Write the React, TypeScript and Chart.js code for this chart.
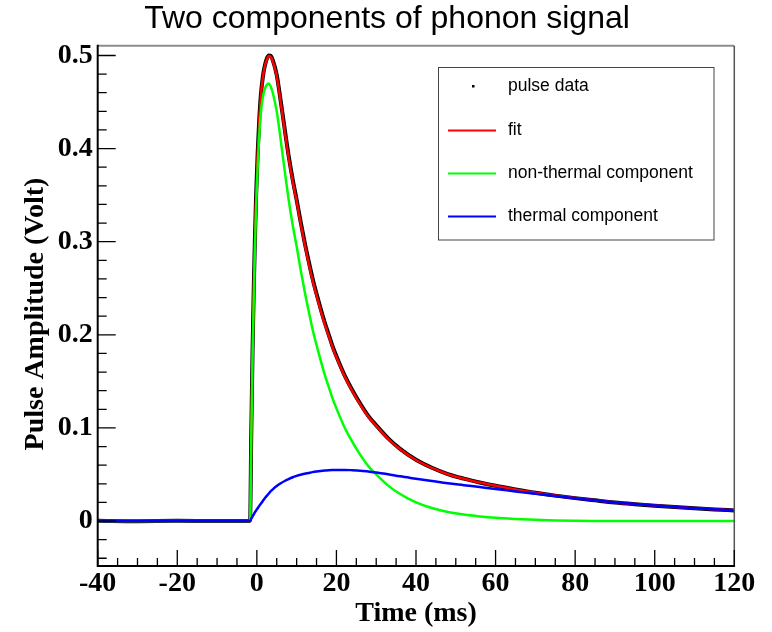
import React, { useEffect, useRef } from "react";
import { Chart, registerables } from "chart.js";

Chart.register(...registerables);

const TITLE = "Two components of phonon signal";
const X_TITLE = "Time (ms)";
const Y_TITLE = "Pulse Amplitude (Volt)";
const LEGEND_LABELS = ["pulse data", "fit", "non-thermal component", "thermal component"];

const TIME_MS = [
  -40, -30, -20, -10, -2,
  -1.7, -1.4, -1.1, -0.8, -0.5, -0.2,
  0.2, 0.6,
  1, 1.5, 2, 2.5, 3, 3.5, 4,
  5, 6, 7, 8, 9, 10, 11, 12, 13, 14, 15, 16, 17, 18, 19, 20,
  22, 24, 26, 28, 30,
  33, 36,
  40, 44, 48, 52, 56, 60,
  65, 70, 75, 80, 85, 90, 95, 100, 105, 110, 115, 120,
];

const PULSE_DATA = [
  0.0003, -0.0002, 0.0002, -0.0001, 0.0001,
  0.001, 0.095, 0.178, 0.245, 0.301, 0.348,
  0.395, 0.431,
  0.457, 0.477, 0.489, 0.4965, 0.5, 0.4995, 0.495,
  0.479, 0.451, 0.421, 0.392, 0.367, 0.345, 0.3215, 0.2995, 0.2795, 0.2605, 0.244, 0.2285, 0.214, 0.201, 0.188, 0.177,
  0.157, 0.1405, 0.126, 0.113, 0.1028,
  0.0888, 0.0775,
  0.0658, 0.0572, 0.0504, 0.0455, 0.0414, 0.0378,
  0.0339, 0.0303, 0.0273, 0.0246, 0.0222, 0.0199, 0.0181, 0.0165, 0.015, 0.0137, 0.0125, 0.0114,
];

const FIT = [
  0, 0, 0, 0, 0,
  0, 0.0925, 0.1748, 0.242, 0.2992, 0.3462,
  0.3938, 0.4302,
  0.4565, 0.4765, 0.4885, 0.4955, 0.4995, 0.4985, 0.494,
  0.4775, 0.4495, 0.419, 0.39, 0.365, 0.3435, 0.3197, 0.2977, 0.2776, 0.2585, 0.2422, 0.2268, 0.2123, 0.1996, 0.1868, 0.1759,
  0.1559, 0.1396, 0.1251, 0.1122, 0.1022,
  0.0882, 0.077,
  0.0655, 0.057, 0.0503, 0.0454, 0.0414, 0.0379,
  0.034, 0.0305, 0.0275, 0.0248, 0.0223, 0.02, 0.0182, 0.0166, 0.0151, 0.0138, 0.0126, 0.0115,
];

const NON_THERMAL = [
  0, 0, 0, 0, 0,
  0, 0.09, 0.17, 0.235, 0.29, 0.335,
  0.38, 0.414,
  0.438, 0.455, 0.464, 0.4685, 0.47, 0.4665, 0.46,
  0.44, 0.409, 0.376, 0.345, 0.318, 0.295, 0.27, 0.247, 0.226, 0.206, 0.189, 0.173, 0.158, 0.145, 0.132, 0.121,
  0.101, 0.085, 0.071, 0.059, 0.05,
  0.038, 0.029,
  0.02, 0.014, 0.0098, 0.0069, 0.0049, 0.0034,
  0.0022, 0.0013, 0.0007, 0.0003, 0.0001, 0, 0, 0, 0, 0, 0, 0,
];

const THERMAL = [
  0, 0, 0, 0, 0,
  0, 0.0025, 0.0048, 0.007, 0.0092, 0.0112,
  0.0138, 0.0162,
  0.0185, 0.0215, 0.0245, 0.027, 0.0295, 0.032, 0.034,
  0.0375, 0.0405, 0.043, 0.045, 0.047, 0.0485, 0.0497, 0.0507, 0.0516, 0.0525, 0.0532, 0.0538, 0.0543, 0.0546, 0.0548, 0.0549,
  0.0549, 0.0546, 0.0541, 0.0532, 0.0522,
  0.0502, 0.048,
  0.0455, 0.043, 0.0405, 0.0385, 0.0365, 0.0345,
  0.0318, 0.0292, 0.0268, 0.0245, 0.0222, 0.02, 0.0182, 0.0166, 0.0151, 0.0138, 0.0126, 0.0115,
];

const X_MIN = -40;
const X_MAX = 120;
const Y_MIN = -0.0483;
const Y_MAX = 0.5105;
const X_TICKS = [-40, -20, 0, 20, 40, 60, 80, 100, 120];
const X_TICK_LABELS = ["-40", "-20", "0", "20", "40", "60", "80", "100", "120"];
const Y_TICKS = [0, 0.1, 0.2, 0.3, 0.4, 0.5];
const Y_TICK_LABELS = ["0", "0.1", "0.2", "0.3", "0.4", "0.5"];
const X_MINOR_STEP = 5;
const Y_MINOR_STEP = 0.02;

const SERIF = '"Liberation Serif", "Times New Roman", serif';
const SANS = '"Liberation Sans", Arial, sans-serif';

const toPoints = (ys: number[]) => TIME_MS.map((t, i) => ({ x: t, y: ys[i] }));

const rootStylePlugin = {
  id: "rootStyle",
  afterDraw(chart: any) {
    const ctx = chart.ctx as CanvasRenderingContext2D;
    const { left, right, top, bottom } = chart.chartArea;
    const xs = chart.scales.x;
    const ys = chart.scales.y;
    ctx.save();

    // frame
    ctx.lineCap = "butt";
    ctx.strokeStyle = "#8c8c8c";
    ctx.lineWidth = 2;
    ctx.beginPath();
    ctx.moveTo(left, top);
    ctx.lineTo(right, top);
    ctx.stroke();
    ctx.strokeStyle = "#555";
    ctx.lineWidth = 1.5;
    ctx.beginPath();
    ctx.moveTo(right, top);
    ctx.lineTo(right, bottom);
    ctx.stroke();
    ctx.strokeStyle = "#000";
    ctx.lineWidth = 2;
    ctx.beginPath();
    ctx.moveTo(left, top - 1);
    ctx.lineTo(left, bottom);
    ctx.lineTo(right + 0.75, bottom);
    ctx.stroke();

    // ticks
    ctx.lineWidth = 1.3;
    ctx.beginPath();
    for (let k = 0; ; k++) {
      const v = X_MIN + k * X_MINOR_STEP;
      if (v > X_MAX + 1e-9) break;
      const px = xs.getPixelForValue(v);
      const major = X_TICKS.some((t) => Math.abs(t - v) < 1e-9);
      ctx.moveTo(px, bottom);
      ctx.lineTo(px, bottom - (major ? 16 : 8));
    }
    const yStart = Math.ceil(Y_MIN / Y_MINOR_STEP) * Y_MINOR_STEP;
    for (let k = 0; ; k++) {
      const v = yStart + k * Y_MINOR_STEP;
      if (v > Y_MAX) break;
      const py = ys.getPixelForValue(v);
      const major = Y_TICKS.some((t) => Math.abs(t - v) < 1e-6);
      ctx.moveTo(left, py);
      ctx.lineTo(left + (major ? 18 : 9), py);
    }
    ctx.stroke();

    // title
    ctx.fillStyle = "#000";
    ctx.font = `32px ${SANS}`;
    ctx.textAlign = "center";
    ctx.textBaseline = "middle";
    ctx.fillText(TITLE, 387, 19);

    // y axis title
    ctx.save();
    ctx.translate(36, 314);
    ctx.rotate(-Math.PI / 2);
    ctx.font = `bold 28px ${SERIF}`;
    ctx.textAlign = "center";
    ctx.textBaseline = "middle";
    ctx.fillText(Y_TITLE, 0, 0);
    ctx.restore();

    // legend
    const box = { l: 438.5, t: 67.5, r: 714, b: 240 };
    ctx.fillStyle = "#fff";
    ctx.fillRect(box.l, box.t, box.r - box.l, box.b - box.t);
    ctx.strokeStyle = "#444";
    ctx.lineWidth = 1;
    ctx.strokeRect(box.l, box.t, box.r - box.l, box.b - box.t);
    const rowY = [86, 130, 173, 216];
    const colors = ["#000000", "#ff0000", "#00ff00", "#0000ff"];
    ctx.font = `17.5px ${SANS}`;
    ctx.textAlign = "left";
    ctx.textBaseline = "middle";
    LEGEND_LABELS.forEach((lab, i) => {
      const y = rowY[i];
      if (i === 0) {
        ctx.fillStyle = "#000";
        ctx.fillRect(472, y - 1, 2.5, 2.5);
      } else {
        ctx.strokeStyle = colors[i];
        ctx.lineWidth = 2;
        ctx.beginPath();
        ctx.moveTo(448, y + 0.5);
        ctx.lineTo(496, y + 0.5);
        ctx.stroke();
      }
      ctx.fillStyle = "#000";
      ctx.fillText(lab, 508, y);
    });
    ctx.restore();
  },
};

export default function App() {
  const ref = useRef<HTMLCanvasElement>(null);

  useEffect(() => {
    if (!ref.current) return;
    const tickFont = { family: SERIF, weight: "bold" as const, size: 28 };
    const chart = new Chart(ref.current, {
      type: "line",
      data: {
        datasets: [
          {
            label: LEGEND_LABELS[3],
            data: toPoints(THERMAL),
            borderColor: "#0000ff",
            borderWidth: 2.5,
            pointRadius: 0,
            cubicInterpolationMode: "monotone",
            fill: false,
            order: 0,
          },
          {
            label: LEGEND_LABELS[2],
            data: toPoints(NON_THERMAL),
            borderColor: "#00ff00",
            borderWidth: 2.5,
            pointRadius: 0,
            cubicInterpolationMode: "monotone",
            fill: false,
            order: 1,
          },
          {
            label: LEGEND_LABELS[1],
            data: toPoints(FIT),
            borderColor: "#ff0000",
            borderWidth: 2.5,
            pointRadius: 0,
            cubicInterpolationMode: "monotone",
            fill: false,
            order: 2,
          },
          {
            label: LEGEND_LABELS[0],
            data: toPoints(PULSE_DATA),
            borderColor: "#000000",
            borderWidth: 4,
            pointRadius: 0,
            cubicInterpolationMode: "monotone",
            fill: false,
            order: 3,
          },
        ],
      },
      options: {
        responsive: false,
        animation: false,
        devicePixelRatio: 1,
        events: [],
        layout: { padding: { top: 45.7, right: 37.7, bottom: 0, left: 0 } },
        plugins: {
          legend: { display: false },
          title: { display: false },
          tooltip: { enabled: false },
        },
        scales: {
          x: {
            type: "linear",
            min: X_MIN,
            max: X_MAX,
            grid: { display: false, drawTicks: false },
            border: { display: false },
            afterBuildTicks: (s: any) => {
              s.ticks = X_TICKS.map((v) => ({ value: v }));
            },
            afterFit: (s: any) => {
              s.height = 66;
            },
            ticks: {
              autoSkip: false,
              maxRotation: 0,
              padding: 1,
              color: "#000",
              font: tickFont,
              callback: (v: any) => X_TICK_LABELS[X_TICKS.indexOf(Number(v))],
            },
            title: {
              display: true,
              text: X_TITLE,
              color: "#000",
              font: tickFont,
              padding: { top: 0, bottom: 1.5 },
            },
          },
          y: {
            type: "linear",
            min: Y_MIN,
            max: Y_MAX,
            grid: { display: false, drawTicks: false },
            border: { display: false },
            afterBuildTicks: (s: any) => {
              s.ticks = Y_TICKS.map((v) => ({ value: v }));
            },
            afterFit: (s: any) => {
              s.width = 97.7;
            },
            ticks: {
              autoSkip: false,
              padding: 5,
              color: "#000",
              font: tickFont,
              callback: (v: any) => {
                const i = Y_TICKS.findIndex((t) => Math.abs(t - Number(v)) < 1e-9);
                return i >= 0 ? Y_TICK_LABELS[i] : "";
              },
            },
            title: { display: false },
          },
        },
      },
      plugins: [rootStylePlugin],
    } as any);
    return () => chart.destroy();
  }, []);

  return (
    <div style={{ position: "fixed", left: 0, top: 0, width: 772, height: 632, background: "#fff" }}>
      <canvas ref={ref} width={772} height={632} style={{ display: "block", width: 772, height: 632 }} />
    </div>
  );
}
